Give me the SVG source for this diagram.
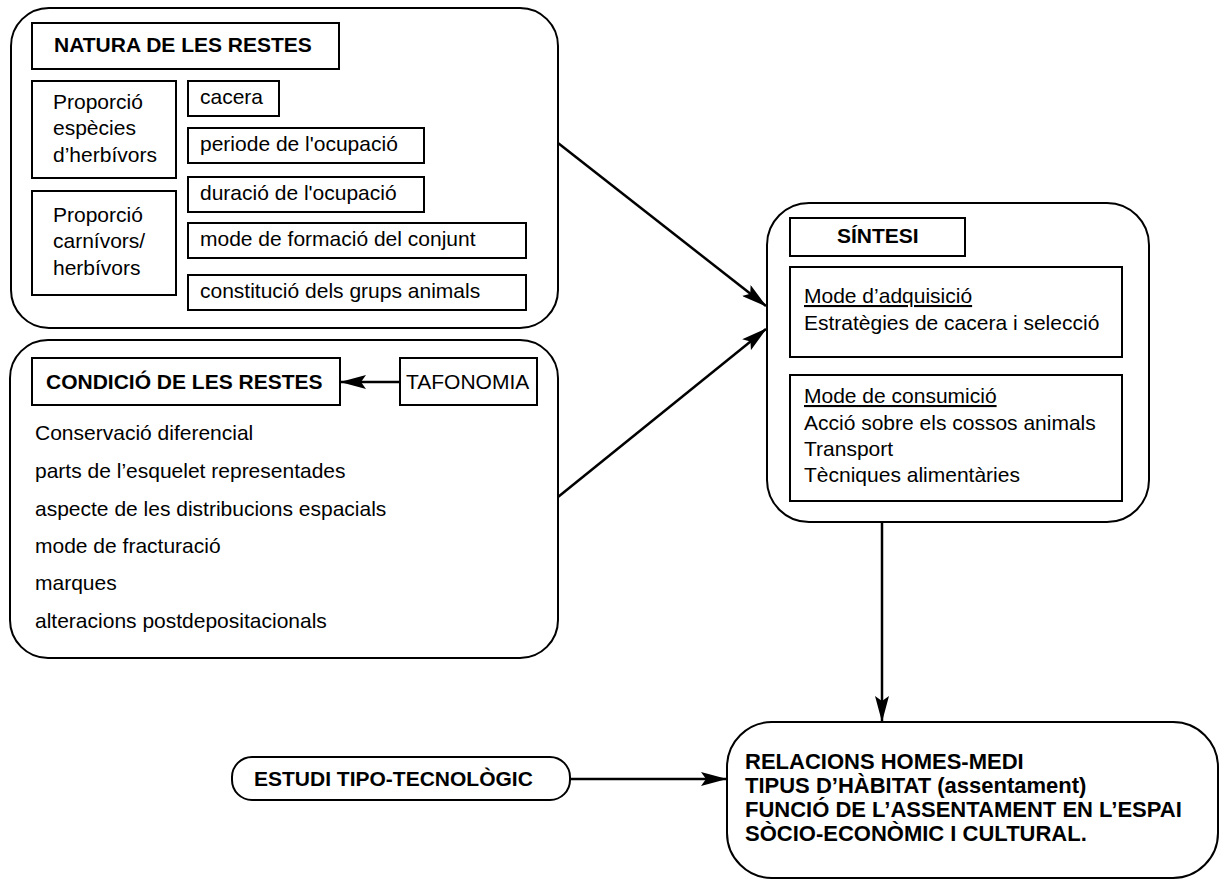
<svg xmlns="http://www.w3.org/2000/svg" width="1221" height="880" viewBox="0 0 1221 880">
<defs>
<style>
.box{fill:none;stroke:#000;stroke-width:2}
.t{font-family:"Liberation Sans",Arial,Helvetica,sans-serif;font-size:21px;fill:#000}
.b{font-weight:bold}
.u{text-decoration:underline}
.big{font-size:22px}
.con{fill:none;stroke:#000;stroke-width:2.5}
</style>
<marker id="ah" markerUnits="userSpaceOnUse" markerWidth="26" markerHeight="14" refX="25" refY="7" orient="auto">
<path d="M0,0 L26,7 L0,14 L5,7 z" fill="#000"/>
</marker>
</defs>
<rect width="1221" height="880" fill="#fff"/>

<g id="natura">
<rect class="box" x="11" y="8" width="547" height="320" rx="38"/>
<rect class="box" x="32" y="23" width="307" height="46"/>
<text class="t b" x="54" y="52">NATURA DE LES RESTES</text>
<rect class="box" x="32" y="81" width="144" height="97"/>
<text class="t" x="53" y="109">Proporció</text>
<text class="t" x="53" y="135">espècies</text>
<text class="t" x="53" y="162">d’herbívors</text>
<rect class="box" x="32" y="191" width="144" height="104"/>
<text class="t" x="53" y="222">Proporció</text>
<text class="t" x="53" y="248">carnívors/</text>
<text class="t" x="53" y="275">herbívors</text>
<rect class="box" x="188" y="81" width="91" height="35"/>
<text class="t" x="200" y="104">cacera</text>
<rect class="box" x="188" y="128" width="236" height="35"/>
<text class="t" x="200" y="151">periode de l'ocupació</text>
<rect class="box" x="188" y="177" width="236" height="35"/>
<text class="t" x="200" y="200">duració de l'ocupació</text>
<rect class="box" x="188" y="223" width="338" height="35"/>
<text class="t" x="200" y="246">mode de formació del conjunt</text>
<rect class="box" x="188" y="275" width="338" height="35"/>
<text class="t" x="200" y="298">constitució dels grups animals</text>
</g>

<g id="condicio">
<rect class="box" x="10" y="340" width="548" height="318" rx="38"/>
<rect class="box" x="32" y="358" width="308" height="47"/>
<text class="t b" x="46" y="389">CONDICIÓ DE LES RESTES</text>
<text class="t" x="35" y="440">Conservació diferencial</text>
<text class="t" x="35" y="478">parts de l’esquelet representades</text>
<text class="t" x="35" y="516">aspecte de les distribucions espacials</text>
<text class="t" x="35" y="553">mode de fracturació</text>
<text class="t" x="35" y="590">marques</text>
<text class="t" x="35" y="628">alteracions postdepositacionals</text>
</g>

<g id="tafonomia">
<rect class="box" x="400" y="358" width="137" height="47"/>
<text class="t" x="406" y="389">TAFONOMIA</text>
</g>

<g id="sintesi">
<rect class="box" x="767" y="203" width="382" height="319" rx="42"/>
<rect class="box" x="790" y="218" width="175" height="38"/>
<text class="t b" x="837" y="243">SÍNTESI</text>
<rect class="box" x="790" y="267" width="332" height="90"/>
<text class="t u" x="804" y="303">Mode d’adquisició</text>
<text class="t" x="804" y="330">Estratègies de cacera i selecció</text>
<rect class="box" x="790" y="375" width="332" height="126"/>
<text class="t u" x="804" y="403">Mode de consumició</text>
<text class="t" x="804" y="430">Acció sobre els cossos animals</text>
<text class="t" x="804" y="456">Transport</text>
<text class="t" x="804" y="482">Tècniques alimentàries</text>
</g>

<g id="estudi">
<rect class="box" x="232" y="757" width="338" height="43" rx="20"/>
<text class="t b" x="254" y="786">ESTUDI TIPO-TECNOLÒGIC</text>
</g>

<g id="relacions">
<rect class="box" x="727" y="722" width="491" height="156" rx="45"/>
<text class="t b big" x="745" y="769">RELACIONS HOMES-MEDI</text>
<text class="t b big" x="745" y="793">TIPUS D’HÀBITAT (assentament)</text>
<text class="t b big" x="745" y="817">FUNCIÓ DE L’ASSENTAMENT EN L’ESPAI</text>
<text class="t b big" x="745" y="841">SÒCIO-ECONÒMIC I CULTURAL.</text>
</g>

<g id="connectors">
<line class="con" x1="400" y1="382" x2="341" y2="382" marker-end="url(#ah)"/>
<line class="con" x1="558" y1="143" x2="766" y2="306" marker-end="url(#ah)"/>
<line class="con" x1="558" y1="497" x2="766" y2="329" marker-end="url(#ah)"/>
<line class="con" x1="882" y1="522" x2="882" y2="721" marker-end="url(#ah)"/>
<line class="con" x1="570" y1="779" x2="726" y2="779" marker-end="url(#ah)"/>
</g>
</svg>
